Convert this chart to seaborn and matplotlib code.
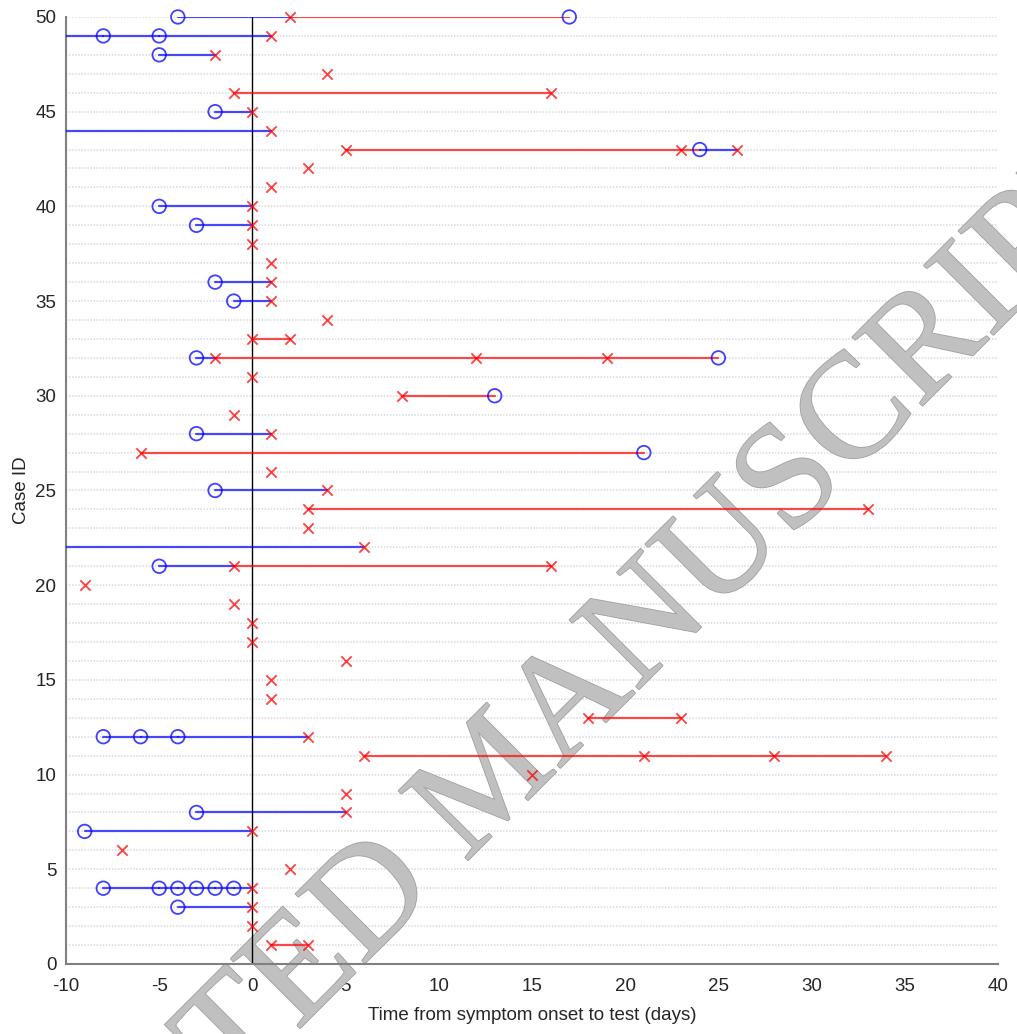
import numpy as np
import pandas as pd
import matplotlib
matplotlib.use("Agg")
import matplotlib.pyplot as plt
import matplotlib.patheffects as pe
import seaborn as sns

# ---------------- data ----------------
case_ids = list(range(1, 51))
# negative test days (blue circles) per case ID 1..50
negative_tests = [
    [], [], [-4], [-8, -5, -4, -3, -2, -1], [], [], [-9], [-3], [], [],
    [], [-8, -6, -4], [], [], [], [], [], [], [], [],
    [-5], [-12], [], [], [-2], [], [21], [-3], [], [13],
    [], [-3, 25], [], [], [-1], [-2], [], [], [-3], [-5],
    [], [], [24], [-12], [-2], [], [], [-5], [-12, -8, -5], [-4, 17],
]
# positive test days (red crosses) per case ID 1..50
positive_tests = [
    [1, 3], [0], [0], [0], [2], [-7], [0], [5], [5], [15],
    [6, 21, 28, 34], [3], [18, 23], [1], [1], [5], [0], [0], [-1], [-9],
    [-1, 16], [6], [3], [3, 33], [4], [1], [-6], [1], [-1], [8],
    [0], [-2, 12, 19], [0, 2], [4], [1], [1], [1], [0], [0], [0],
    [1], [3], [5, 23, 26], [1], [0], [-1, 16], [4], [-2], [1], [2],
]
x_ticks = list(range(-10, 41, 5))
y_ticks = list(range(0, 51, 5))
x_label = "Time from symptom onset to test (days)"
y_label = "Case ID"
watermark = "ACCEPTED MANUSCRIPT"

# ---------------- build tables ----------------
rows = []
for cid, negs, poss in zip(case_ids, negative_tests, positive_tests):
    for d in negs:
        rows.append((cid, d, "neg"))
    for d in poss:
        rows.append((cid, d, "pos"))
tests = pd.DataFrame(rows, columns=["case", "day", "result"])

seg_rows = []
seg_id = 0
for cid, grp in tests.groupby("case"):
    g = grp.sort_values("day").reset_index(drop=True)
    for i in range(len(g) - 1):
        kind = g.loc[i, "result"]
        seg_rows.append((seg_id, cid, g.loc[i, "day"], kind))
        seg_rows.append((seg_id, cid, g.loc[i + 1, "day"], kind))
        seg_id += 1
segments = pd.DataFrame(seg_rows, columns=["seg", "case", "day", "kind"])

# ---------------- plot ----------------
sns.set_style("white")
plt.rcParams["font.family"] = ["Liberation Sans", "DejaVu Sans"]

fig = plt.figure(figsize=(10.17, 10.34), dpi=100)
ax = fig.add_axes([0.0649, 0.0677, 0.9164, 0.9159])

blue = (0.0, 0.0, 1.0)
red = (1.0, 0.0, 0.0)

XMIN, XMAX = -10, 40

sns.lineplot(data=segments, x="day", y="case", units="seg", estimator=None,
             hue="kind", palette={"neg": blue, "pos": red}, sort=False,
             legend=False, alpha=0.7, linewidth=1.6, ax=ax, zorder=3)

in_view = tests[(tests.day >= XMIN) & (tests.day <= XMAX)]
sns.scatterplot(data=in_view[in_view.result == "neg"], x="day", y="case",
                marker="o", s=95, color=blue, facecolor="none",
                edgecolor=(0, 0, 1, 0.75), linewidth=1.3, ax=ax, zorder=4,
                clip_on=False)
sns.scatterplot(data=in_view[in_view.result == "pos"], x="day", y="case",
                marker="x", s=55, color=(1, 0, 0, 0.75), linewidth=1.3,
                ax=ax, zorder=4, clip_on=False)

ax.axvline(0, ymin=0, ymax=1, color="black", linewidth=1.0, zorder=2.5)

ax.set_xlim(XMIN, XMAX)
ax.set_ylim(0, 50)
ax.set_xticks(x_ticks)
ax.set_xticklabels([str(v) for v in x_ticks])
ax.set_yticks(y_ticks)
ax.set_yticklabels([str(v) for v in y_ticks])
ax.set_yticks(np.arange(0, 51), minor=True)
ax.tick_params(axis="both", which="major", direction="in", length=7,
               width=1.2, color="#808080", labelsize=13.5,
               labelcolor="#262626", pad=7)
ax.tick_params(axis="x", which="major", pad=10)
ax.tick_params(axis="y", which="minor", length=0)
ax.grid(False)
ax.yaxis.grid(True, which="both", linestyle=(0, (1, 1)), color="#d9d9d9",
              linewidth=1.1, zorder=0)
ax.set_axisbelow(True)

for s in ["top", "right"]:
    ax.spines[s].set_visible(False)
for s in ["left", "bottom"]:
    ax.spines[s].set_color("#808080")
    ax.spines[s].set_linewidth(1.5)

ax.set_xlabel(x_label, fontsize=13.5, color="#262626", labelpad=9)
ax.set_ylabel(y_label, fontsize=13.5, color="#262626", labelpad=4)

ax.text(0.4857, 0.2427, watermark, transform=fig.transFigure, rotation=45,
        rotation_mode="anchor", ha="center", va="center",
        fontsize=108, family="Liberation Serif", color="#c0c0c0",
        clip_on=False, zorder=2,
        path_effects=[pe.withStroke(linewidth=1.2, foreground="#a0a0a0")])

fig.savefig("out.png", dpi=100)
